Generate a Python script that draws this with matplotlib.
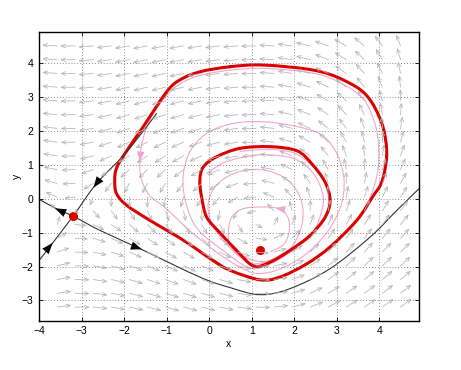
import numpy as np
import matplotlib.pyplot as plt
from matplotlib.path import Path
from matplotlib.patches import PathPatch

plt.rcParams['font.family'] = ['Liberation Sans', 'DejaVu Sans']

# equilibria
saddle_x, saddle_y = -3.2, -0.51
eq_x, eq_y = 1.19, -1.52

# outer limit cycle (thick red)
outer_x = [0.49, 1.27, 2.45, 3.15, 3.70, 4.05, 4.17, 4.12, 4.02, 3.86, 3.47, 2.84, 2.29, 1.66,
           1.19, 0.49, 0.09, -0.61, -1.40, -1.94, -2.18, -2.22, -2.18, -1.98, -1.55, -1.00,
           -0.69, -0.22, 0.49]
outer_y = [3.90, 3.95, 3.80, 3.51, 3.05, 2.25, 1.44, 0.80, 0.40, 0.10, -0.63, -1.42, -1.92, -2.31,
           -2.39, -2.11, -1.82, -1.22, -0.63, -0.19, 0.16, 0.55, 0.90, 1.34, 2.13, 3.16,
           3.51, 3.75, 3.90]

# inner limit cycle (thick red)
inner_x = [0.72, 1.43, 2.06, 2.40, 2.72, 2.84, 2.72, 2.37, 1.90, 1.43, 1.04, 0.64, 0.25, -0.06,
           -0.18, -0.22, -0.14, 0.17, 0.72]
inner_y = [1.49, 1.54, 1.42, 1.05, 0.50, -0.05, -0.55, -1.08, -1.52, -1.87, -1.98, -1.52, -1.00, -0.54,
           0.06, 0.55, 0.94, 1.24, 1.49]

# trajectory between the two cycles (pink)
mid_x = [3.55, 3.80, 3.96, 3.98, 3.90, 3.62, 3.05, 2.40, 1.30, 0.50, -0.20, -0.65, -1.00, -1.30,
         -1.50, -1.60, -1.63, -1.60, -1.40, -1.00, -0.45, 0.20, 0.70, 1.10, 1.60, 2.20, 2.70, 3.00,
         3.15, 3.15, 2.95, 2.55, 1.70, 1.00, 0.40, -0.10, -0.45, -0.60, -0.60, -0.45, -0.20, 0.30,
         0.90, 1.30, 1.90, 2.35, 2.74, 2.82, 2.70, 2.36, 1.98, 1.40, 0.72]
mid_y = [-0.55, 0.10, 0.80, 1.50, 2.20, 2.95, 3.45, 3.72, 3.85, 3.80, 3.65, 3.42, 3.05, 2.55,
         2.00, 1.50, 1.10, 0.60, 0.10, -0.30, -0.95, -1.60, -2.00, -2.20, -2.10, -1.70, -1.10, -0.50,
         0.10, 0.75, 1.45, 1.95, 2.22, 2.28, 2.18, 1.90, 1.40, 0.80, 0.20, -0.50, -1.00, -1.50,
         -2.02, -2.00, -1.58, -1.12, -0.50, 0.08, 0.58, 1.04, 1.36, 1.46, 1.40]

# trajectory inside the inner cycle (pink)
in_x = [1.45, 1.75, 1.88, 1.85, 1.66, 1.27, 0.80, 0.53, 0.45, 0.49, 0.75, 1.27, 1.75, 2.05, 2.20,
        2.15, 1.85, 1.30, 0.70, 0.20, -0.02, 0.05, 0.35, 0.75, 1.04, 1.45, 1.95, 2.37, 2.60, 2.68,
        2.45, 1.98, 1.19, 0.41, -0.06]
in_y = [-1.55, -1.35, -0.95, -0.55, -0.30, -0.24, -0.29, -0.54, -0.95, -1.35, -1.68, -1.85, -1.65, -1.20, -0.60,
        0.00, 0.55, 0.85, 0.80, 0.45, -0.10, -0.70, -1.25, -1.75, -1.92, -1.80, -1.45, -1.13, -0.54, 0.06,
        0.75, 1.19, 1.30, 1.10, 0.75]

# separatrices of the saddle (black)
stab_x = [-4.00, -3.75, -3.20, -2.65, -2.00, -1.47, -1.24]
stab_y = [-1.82, -1.42, -0.51, 0.45, 1.30, 2.13, 2.52]
unst_x = [-4.00, -3.55, -3.20, -2.57, -1.63, -0.22, 0.49, 1.19, 1.90, 2.84, 3.78, 4.41, 4.93]
unst_y = [-0.01, -0.32, -0.51, -0.93, -1.47, -2.31, -2.62, -2.83, -2.65, -2.06, -1.13, -0.34, 0.30]

# x'-nullcline as seen from the arrows (vertical arrows)
null_x = [-3.2, -1.5, -1.0, 1.19, 2.3, 3.2, 4.5]
null_y = [-0.51, 0.5, 0.0, -1.52, -0.3, 1.2, 2.5]
hcoef = np.polyfit(null_x, null_y, 3)

xmin, xmax, ymin, ymax = -4, 4.92, -3.6, 4.92


def smooth(xs, ys, closed=False):
    # catmull-rom through the read points, drawn as bezier segments
    P = np.column_stack([xs, ys])
    n = len(P)
    verts = [P[0]]
    codes = [Path.MOVETO]
    for i in range(n - 1):
        p0 = P[i - 1] if i > 0 else (P[-2] if closed else P[0])
        p1, p2 = P[i], P[i + 1]
        p3 = P[i + 2] if i + 2 < n else (P[1] if closed else P[-1])
        verts += [p1 + (p2 - p0) / 6, p2 - (p3 - p1) / 6, p2]
        codes += [Path.CURVE4] * 3
    return Path(verts, codes)


fig = plt.figure(figsize=(4.61, 3.70), dpi=100)
ax = fig.add_axes([0.0846, 0.133, 0.8234, 0.78])

# direction field
gx = xmin + (xmax - xmin) * np.arange(1, 21) / 21
gy = ymin + (ymax - ymin) * np.arange(1, 21) / 21
for xx in gx:
    for yy in gy:
        u = -(yy - np.polyval(hcoef, xx))
        v = 0.218 * (xx - eq_x) * (xx - saddle_x)
        m = np.hypot(u, v)
        L = 0.36 * m / (m + 0.15)
        ax.annotate('', xy=(xx + L * u / m, yy + L * v / m), xytext=(xx, yy),
                    arrowprops=dict(arrowstyle='->,head_length=0.3,head_width=0.13',
                                    color='#b4b4b4', lw=0.55, shrinkA=0, shrinkB=0))

pink = '#f2a6cc'
red = '#dd0000'
curves = [(mid_x, mid_y, False, pink, 0.8), (in_x, in_y, False, pink, 0.8),
          (outer_x, outer_y, True, red, 2.2), (inner_x, inner_y, True, red, 2.2),
          (stab_x, stab_y, False, '#333333', 0.8), (unst_x, unst_y, False, '#333333', 0.8)]
for cx, cy, cl, col, lw in curves:
    ax.add_patch(PathPatch(smooth(cx, cy, cl), fc='none', ec=col, lw=lw, capstyle='round'))


def head(x0, y0, x1, y1, c, s):
    ax.annotate('', xy=(x1, y1), xytext=(x0, y0),
                arrowprops=dict(arrowstyle='-|>,head_length=0.8,head_width=0.3',
                                color=c, lw=0, mutation_scale=s, shrinkA=0, shrinkB=0))


head(-1.61, 1.40, -1.63, 1.10, pink, 9)
head(1.85, -0.33, 1.55, -0.27, pink, 9)
head(-3.90, -1.63, -3.68, -1.30, 'black', 10)
head(-2.55, 0.62, -2.72, 0.33, 'black', 10)
head(-3.40, -0.41, -3.62, -0.28, 'black', 10)
head(-1.85, -1.37, -1.58, -1.49, 'black', 10)

ax.plot([saddle_x, eq_x], [saddle_y, eq_y], 'o', color=red, ms=5.5, mec=red)

ax.set_xlim(xmin, xmax)
ax.set_ylim(ymin, ymax)
ax.set_xticks(range(-4, 5))
ax.set_yticks(range(-3, 5))
ax.set_xticklabels(['\u2212' + str(-t) if t < 0 else str(t) for t in range(-4, 5)])
ax.set_yticklabels(['\u2212' + str(-t) if t < 0 else str(t) for t in range(-3, 5)])
ax.grid(True, ls=(0, (1, 2.5)), color='#666666', lw=0.6)
ax.tick_params(direction='in', top=True, right=True, length=3, width=0.6, labelsize=7.5, pad=4)
for s in ax.spines.values():
    s.set_linewidth(1.0)
ax.set_xlabel('x', fontsize=7.5, labelpad=2)
ax.set_ylabel('y', fontsize=7.5, labelpad=0)

fig.savefig('out.png', dpi=100)
